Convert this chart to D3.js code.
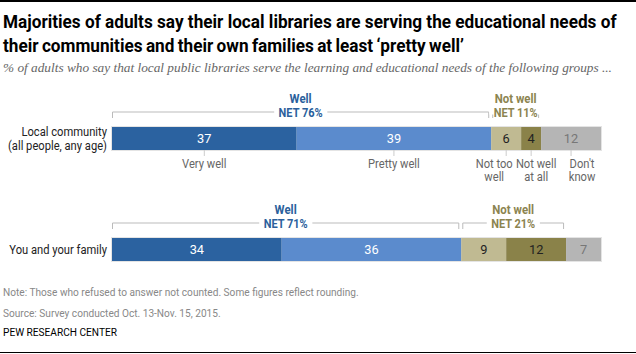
<!DOCTYPE html>
<html>
<head>
<meta charset="utf-8">
<title>Libraries serving educational needs</title>
<script src="https://cdnjs.cloudflare.com/ajax/libs/d3/7.8.5/d3.min.js"></script>
<style>
  body { margin: 0; background: #fff; }
  text { font-family: Roboto, "Liberation Sans", sans-serif; }
</style>
</head>
<body>
<div id="chart"></div>
<script>
/* global d3 */

const rows = ['Local community\n(all people, any age)', 'You and your family'];
const categories = ['Very well', 'Pretty well', 'Not too\nwell', 'Not well\nat all', "Don't\nknow"];
const community = [37, 39, 6, 4, 12];
const family = [34, 36, 9, 12, 7];
const netWell = [76, 71];
const netNotWell = [11, 21];

const series = [community, family];
const colors = ['#2b62a0', '#5b8bcd', '#c0ba92', '#8a8249', '#b5b5b5'];
const valueColors = ['#fff', '#fff', '#222', '#222', '#777'];
const labelShift = [0, 0, -12, 5, 11]; // nudge crowded labels apart

const W = 636, H = 354;
const barH = 23;
const SX = 0.86; // squeeze Roboto toward the narrow house font

const svg = d3.select('#chart').append('svg')
  .attr('width', W)
  .attr('height', H);

// text helper: squeezed horizontally around its anchor point
function addText(parent, x, y, str, o) {
  const g = parent.append('g')
    .attr('transform', `translate(${x},${y}) scale(${o.sx || SX},1)`);
  const t = g.append('text')
    .attr('text-anchor', o.anchor || 'start')
    .style('font-size', o.size + 'px')
    .style('font-weight', o.weight || 'normal')
    .attr('fill', o.fill || '#000');
  str.split('\n').forEach((s, k) => {
    t.append('tspan').attr('x', 0).attr('y', k * (o.lh || 0)).text(s);
  });
  return t;
}

// rules top and bottom
svg.append('line').attr('x1', 0).attr('x2', W).attr('y1', 1).attr('y2', 1)
  .attr('stroke', '#000').attr('stroke-width', 2);
svg.append('line').attr('x1', 0).attr('x2', W).attr('y1', 352.5).attr('y2', 352.5)
  .attr('stroke', '#000').attr('stroke-width', 1);

// title, squeezed so the first line spans the same width as the original
const titleG = svg.append('g');
const title = titleG.append('text')
  .style('font-size', '18.5px').style('font-weight', 'bold').attr('fill', '#000');
const t1 = title.append('tspan').attr('x', 0).attr('y', 0)
  .text('Majorities of adults say their local libraries are serving the educational needs of');
title.append('tspan').attr('x', 0).attr('y', 24)
  .style('word-spacing', '-1px')
  .text('their communities and their own families at least \u2018pretty well\u2019');
const titleScale = 614 / t1.node().getComputedTextLength();
titleG.attr('transform', `translate(3,28) scale(${titleScale},1)`);

svg.append('text')
  .attr('x', 3).attr('y', 72)
  .style('font-family', '"Liberation Serif", "DejaVu Serif", serif')
  .style('font-style', 'italic').style('font-size', '13.3px')
  .attr('fill', '#666')
  .text('% of adults who say that local public libraries serve the learning and educational needs of the following groups ...');

const x = d3.scaleLinear()
  .domain([0, d3.sum(community)])
  .range([112, 601]);

const y = d3.scalePoint()
  .domain(rows)
  .range([127, 238]);

rows.forEach((row, i) => {
  const vals = series[i];
  const top = y(row);
  const stack = vals.map((v, j) => ({ v, j, x0: d3.sum(vals.slice(0, j)), x1: d3.sum(vals.slice(0, j + 1)) }));

  const g = svg.append('g');

  // faint outline round the bar
  g.append('rect')
    .attr('x', x(0) - 1).attr('y', top - 1)
    .attr('width', x(stack[4].x1) - x(0) + 2).attr('height', barH + 2)
    .attr('fill', '#e4e4e4');

  g.selectAll('rect.seg')
    .data(stack)
    .join('rect')
    .attr('class', 'seg')
    .attr('x', d => x(d.x0))
    .attr('y', top)
    .attr('width', d => x(d.x1) - x(d.x0))
    .attr('height', barH)
    .attr('fill', d => colors[d.j]);

  stack.forEach(d => {
    addText(g, (x(d.x0) + x(d.x1)) / 2, top + barH / 2 + 4.5, String(d.v),
      { size: 13.5, anchor: 'middle', fill: valueColors[d.j], sx: 0.95 });
  });

  // row label
  const nLines = row.split('\n').length;
  addText(g, 107, top + barH / 2 + 4.5 - (nLines - 1) * 6.75, row,
    { size: 13, anchor: 'end', fill: '#222', lh: 13.5 });

  // brackets
  const groups = [
    { name: 'Well', net: netWell[i], a: 0, b: vals[0] + vals[1], color: '#2b5f9c', first: true },
    { name: 'Not well', net: netNotWell[i], a: vals[0] + vals[1], b: vals[0] + vals[1] + vals[2] + vals[3], color: '#8c8450' }
  ];
  const by = top - 15;
  groups.forEach(gr => {
    const xa = gr.first ? x(gr.a) + 0.5 : x(gr.a) + 1.5;
    const xb = x(gr.b) - 2.5;
    const cx = (xa + xb) / 2;
    g.append('path')
      .attr('d', `M${xa},${by + 6}V${by}H${xb}V${by + 6}`)
      .attr('fill', 'none')
      .attr('stroke', '#bbb')
      .attr('stroke-width', 1);
    const netLabel = addText(g, cx, by + 4.5, `NET ${gr.net}%`,
      { size: 12.5, weight: 'bold', anchor: 'middle', fill: gr.color, sx: 0.88 });
    const bb = netLabel.node().getBBox();
    d3.select(netLabel.node().parentNode).insert('rect', 'text')
      .attr('x', bb.x - 5).attr('y', -8)
      .attr('width', bb.width + 10).attr('height', 6)
      .attr('fill', '#fff');
    addText(g, cx, by - 9, gr.name,
      { size: 13, weight: 'bold', anchor: 'middle', fill: gr.color, sx: 0.88 });
  });

  // category labels under the first bar only
  if (i === 0) {
    const bottom = top + barH;
    stack.forEach(d => {
      const cx = (x(d.x0) + x(d.x1)) / 2;
      g.append('line')
        .attr('x1', cx).attr('x2', cx)
        .attr('y1', bottom).attr('y2', bottom + 6)
        .attr('stroke', '#ccc');
      addText(g, cx + labelShift[d.j], bottom + 17.5, categories[d.j],
        { size: 13, anchor: 'middle', fill: '#666', lh: 14 });
    });
  }
});

// notes
const notes = [
  { t: 'Note: Those who refused to answer not counted. Some figures reflect rounding.', y: 296, c: '#888' },
  { t: 'Source: Survey conducted Oct. 13-Nov. 15, 2015.', y: 317, c: '#888' },
  { t: 'PEW RESEARCH CENTER', y: 336, c: '#000' }
];
notes.forEach(n => {
  addText(svg, 3, n.y, n.t, { size: 11.5, fill: n.c, sx: 0.88 });
});
</script>
</body>
</html>
